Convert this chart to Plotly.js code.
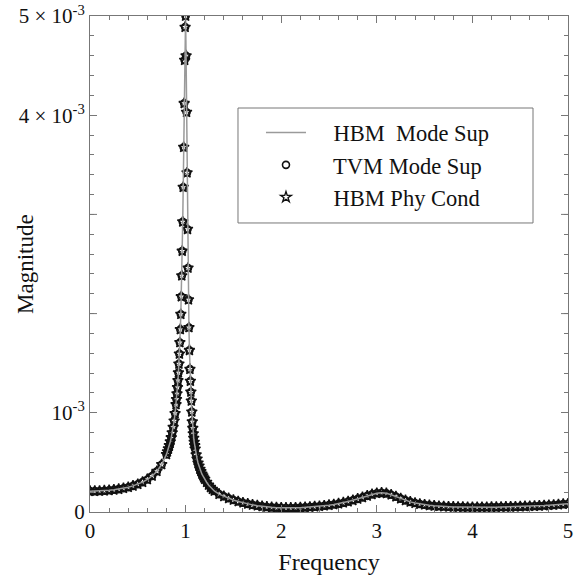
<!DOCTYPE html>
<html>
<head>
<meta charset="utf-8">
<script src="https://cdn.plot.ly/plotly-3.0.1.min.js"></script>
<style>html,body{margin:0;padding:0;background:#fff;}#chart{width:579px;height:575px;}</style>
</head>
<body>
<div id="chart"></div>
<script>
// Frequency samples
const frequency = [
  0, 0.05, 0.10, 0.15, 0.20, 0.25, 0.30, 0.35, 0.40, 0.45, 0.50, 0.55, 0.60, 0.65, 0.70, 0.75,
  0.80, 0.81, 0.82, 0.83, 0.84, 0.85, 0.86, 0.87, 0.88, 0.89,
  0.900, 0.905, 0.910, 0.915, 0.920, 0.925, 0.930, 0.935, 0.940, 0.945,
  0.950, 0.955, 0.960, 0.965, 0.970, 0.975, 0.980, 0.985, 0.990, 0.995,
  1.000, 1.005, 1.010, 1.015, 1.020, 1.025, 1.030, 1.035, 1.040, 1.045,
  1.050, 1.055, 1.060, 1.065, 1.070, 1.075, 1.080, 1.085, 1.090, 1.095,
  1.10, 1.11, 1.12, 1.13, 1.14, 1.15, 1.16, 1.17, 1.18, 1.19,
  1.20, 1.22, 1.24, 1.26, 1.28, 1.30,
  1.35, 1.40, 1.45, 1.50, 1.55, 1.60, 1.65, 1.70, 1.75, 1.80, 1.85, 1.90, 1.95,
  2.00, 2.05, 2.10, 2.15, 2.20, 2.25, 2.30, 2.35, 2.40, 2.45, 2.50, 2.55, 2.60, 2.65, 2.70, 2.75,
  2.80, 2.85, 2.90, 2.95, 3.00, 3.05, 3.10, 3.15, 3.20, 3.25, 3.30, 3.35, 3.40, 3.45, 3.50,
  3.55, 3.60, 3.65, 3.70, 3.75, 3.80, 3.85, 3.90, 3.95, 4.00, 4.05, 4.10, 4.15, 4.20, 4.25,
  4.30, 4.35, 4.40, 4.45, 4.50, 4.55, 4.60, 4.65, 4.70, 4.75, 4.80, 4.85, 4.90, 4.95, 5.00
];

// Magnitude; all three solutions overlap
const hbmModeSup = [
  0.210e-3, 0.2105e-3, 0.2121e-3, 0.2148e-3, 0.2188e-3, 0.2240e-3, 0.2308e-3, 0.2393e-3, 0.2500e-3, 0.2633e-3,
  0.2800e-3, 0.3011e-3, 0.3281e-3, 0.3636e-3, 0.4111e-3, 0.4788e-3,
  0.5808e-3, 0.6077e-3, 0.6375e-3, 0.6709e-3, 0.7083e-3, 0.7505e-3, 0.7988e-3, 0.8543e-3, 0.9186e-3, 0.9943e-3,
  1.0840e-3, 1.1356e-3, 1.1925e-3, 1.2556e-3, 1.3259e-3, 1.4046e-3, 1.4933e-3, 1.5938e-3, 1.7085e-3, 1.8405e-3,
  1.9934e-3, 2.1719e-3, 2.3820e-3, 2.6306e-3, 2.9256e-3, 3.2736e-3, 3.6771e-3, 4.1201e-3, 4.5553e-3, 4.8883e-3,
  5.000e-3, 4.600e-3, 4.030e-3, 3.420e-3, 2.850e-3, 2.460e-3, 2.140e-3, 1.860e-3, 1.630e-3, 1.440e-3,
  1.320e-3, 1.210e-3, 1.120e-3, 1.010e-3, 0.910e-3, 0.845e-3, 0.790e-3, 0.745e-3, 0.705e-3, 0.670e-3,
  0.635e-3, 0.577e-3, 0.536e-3, 0.494e-3, 0.464e-3, 0.431e-3, 0.409e-3, 0.384e-3, 0.366e-3, 0.346e-3,
  0.332e-3, 0.300e-3, 0.272e-3, 0.249e-3, 0.230e-3, 0.212e-3,
  0.180e-3, 0.158e-3, 0.138e-3, 0.121e-3, 0.106e-3, 0.093e-3, 0.082e-3, 0.072e-3, 0.064e-3, 0.057e-3, 0.051e-3, 0.047e-3, 0.044e-3,
  0.042e-3, 0.041e-3, 0.041e-3, 0.042e-3, 0.044e-3, 0.047e-3, 0.050e-3, 0.054e-3, 0.058e-3, 0.063e-3, 0.069e-3, 0.076e-3, 0.084e-3, 0.094e-3, 0.105e-3, 0.118e-3,
  0.132e-3, 0.147e-3, 0.163e-3, 0.178e-3, 0.189e-3, 0.193e-3, 0.188e-3, 0.174e-3, 0.155e-3, 0.135e-3, 0.117e-3, 0.102e-3, 0.090e-3, 0.080e-3, 0.073e-3,
  0.067e-3, 0.062e-3, 0.058e-3, 0.055e-3, 0.053e-3, 0.051e-3, 0.050e-3, 0.049e-3, 0.048e-3, 0.048e-3, 0.048e-3, 0.048e-3, 0.048e-3, 0.049e-3, 0.049e-3,
  0.050e-3, 0.051e-3, 0.052e-3, 0.053e-3, 0.054e-3, 0.056e-3, 0.058e-3, 0.060e-3, 0.062e-3, 0.065e-3, 0.068e-3, 0.071e-3, 0.075e-3, 0.079e-3, 0.083e-3
];
const tvmModeSup = hbmModeSup;
const hbmPhyCond = hbmModeSup;

const seriesNames = ["HBM  Mode Sup", "TVM Mode Sup", "HBM Phy Cond"];
const legendIndent = "    ";

const yTickVals = [0, 1e-3, 4e-3, 5e-3];
const yTickText = ["0", "10<sup>-3</sup>", "4 × 10<sup>-3</sup>", "5 × 10<sup>-3</sup>"];
const yUnlabeledMajor = [2e-3, 3e-3];
const xTickVals = [0, 1, 2, 3, 4, 5];
const xTickText = ["0", "1", "2", "3", "4", "5"];

const serif = "Liberation Serif, Times New Roman, serif";
const axisGray = "#777";

const traces = [
  {
    x: frequency, y: tvmModeSup, name: legendIndent + seriesNames[1], type: "scatter", mode: "markers",
    marker: {symbol: "circle-open", size: 7, color: "#111", line: {width: 1.6, color: "#111"}},
    legendrank: 2
  },
  {
    x: frequency, y: hbmPhyCond, name: legendIndent + seriesNames[2], type: "scatter", mode: "markers",
    marker: {symbol: "star-open", size: 8, color: "#111", line: {width: 1.4, color: "#111"}},
    legendrank: 3
  },
  {
    x: frequency, y: hbmModeSup, name: legendIndent + seriesNames[0], type: "scatter", mode: "lines",
    line: {color: "#9a9a9a", width: 1.5},
    legendrank: 1
  }
];

// plot area in pixels: left 90, right 568, top 16, bottom 512
const plotW = 478;
const shapes = [
  // legend frame
  {type: "rect", xref: "paper", yref: "paper", x0: 0.3096, x1: 0.9268, y0: 0.5827, y1: 0.8145,
   line: {color: axisGray, width: 1}, fillcolor: "#fff", layer: "above"}
];
yUnlabeledMajor.forEach(v => {
  shapes.push({type: "line", xref: "paper", yref: "y", x0: 0, x1: 7 / plotW, y0: v, y1: v,
               line: {color: axisGray, width: 1}});
  shapes.push({type: "line", xref: "paper", yref: "y", x0: 1 - 7 / plotW, x1: 1, y0: v, y1: v,
               line: {color: axisGray, width: 1}});
});

const axisCommon = {
  showgrid: false, zeroline: false, showline: true, linecolor: axisGray, linewidth: 1,
  mirror: "allticks", ticks: "inside", ticklen: 7, tickwidth: 1, tickcolor: axisGray,
  tickfont: {family: serif, size: 21, color: "#111"}
};

const layout = {
  width: 579, height: 575,
  margin: {l: 90, r: 11, t: 16, b: 63},
  paper_bgcolor: "#fff", plot_bgcolor: "#fff",
  font: {family: serif, color: "#111"},
  showlegend: true,
  legend: {
    x: 0.3577, y: 0.6996, xanchor: "left", yanchor: "middle",
    bgcolor: "rgba(0,0,0,0)", borderwidth: 0,
    font: {family: serif, size: 22.5, color: "#111"},
    itemwidth: 40, tracegroupgap: 0
  },
  shapes: shapes,
  annotations: [
    {text: "Magnitude", xref: "paper", yref: "paper", x: (25 - 90) / plotW, y: 0.5,
     xanchor: "center", yanchor: "middle", textangle: -90, showarrow: false,
     font: {family: serif, size: 23, color: "#111"}}
  ],
  xaxis: Object.assign({}, axisCommon, {
    range: [0, 5], tickmode: "array", tickvals: xTickVals, ticktext: xTickText,
    minor: {dtick: 0.2, ticks: "inside", ticklen: 4, tickcolor: axisGray, showgrid: false},
    title: {text: "Frequency", font: {family: serif, size: 24, color: "#111"}, standoff: 12}
  }),
  yaxis: Object.assign({}, axisCommon, {
    range: [0, 5e-3], tickmode: "array", tickvals: yTickVals, ticktext: yTickText,
    minor: {dtick: 0.2e-3, ticks: "inside", ticklen: 4, tickcolor: axisGray, showgrid: false}
  })
};

Plotly.newPlot("chart", traces, layout, {staticPlot: true, displayModeBar: false});
</script>
</body>
</html>
